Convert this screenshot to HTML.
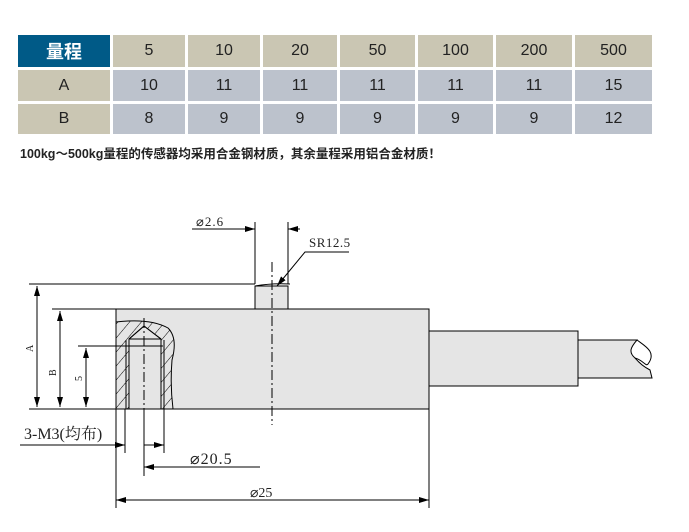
<!DOCTYPE html>
<html><head><meta charset="utf-8"><style>
body{margin:0;width:689px;height:532px;background:#fff;position:relative;overflow:hidden;font-family:"Liberation Sans","Noto Sans CJK SC",sans-serif}
.c{position:absolute;display:flex;align-items:center;justify-content:center;font-size:16px;color:#222}
</style></head><body>
<div class="c" style="left:18px;top:35px;width:92px;height:32px;background:#005a87;color:#fff;font-weight:bold;font-size:18px">量程</div>
<div class="c" style="left:113px;top:35px;width:72px;height:32px;background:#cac6b3">5</div>
<div class="c" style="left:188px;top:35px;width:72px;height:32px;background:#cac6b3">10</div>
<div class="c" style="left:263px;top:35px;width:74px;height:32px;background:#cac6b3">20</div>
<div class="c" style="left:340px;top:35px;width:75px;height:32px;background:#cac6b3">50</div>
<div class="c" style="left:418px;top:35px;width:75px;height:32px;background:#cac6b3">100</div>
<div class="c" style="left:496px;top:35px;width:76px;height:32px;background:#cac6b3">200</div>
<div class="c" style="left:575px;top:35px;width:77px;height:32px;background:#cac6b3">500</div>

<div class="c" style="left:18px;top:70px;width:92px;height:31px;background:#cac6b3">A</div>
<div class="c" style="left:113px;top:70px;width:72px;height:31px;background:#bcc2cc">10</div>
<div class="c" style="left:188px;top:70px;width:72px;height:31px;background:#bcc2cc">11</div>
<div class="c" style="left:263px;top:70px;width:74px;height:31px;background:#bcc2cc">11</div>
<div class="c" style="left:340px;top:70px;width:75px;height:31px;background:#bcc2cc">11</div>
<div class="c" style="left:418px;top:70px;width:75px;height:31px;background:#bcc2cc">11</div>
<div class="c" style="left:496px;top:70px;width:76px;height:31px;background:#bcc2cc">11</div>
<div class="c" style="left:575px;top:70px;width:77px;height:31px;background:#bcc2cc">15</div>

<div class="c" style="left:18px;top:104px;width:92px;height:30px;background:#cac6b3">B</div>
<div class="c" style="left:113px;top:104px;width:72px;height:30px;background:#bcc2cc">8</div>
<div class="c" style="left:188px;top:104px;width:72px;height:30px;background:#bcc2cc">9</div>
<div class="c" style="left:263px;top:104px;width:74px;height:30px;background:#bcc2cc">9</div>
<div class="c" style="left:340px;top:104px;width:75px;height:30px;background:#bcc2cc">9</div>
<div class="c" style="left:418px;top:104px;width:75px;height:30px;background:#bcc2cc">9</div>
<div class="c" style="left:496px;top:104px;width:76px;height:30px;background:#bcc2cc">9</div>
<div class="c" style="left:575px;top:104px;width:77px;height:30px;background:#bcc2cc">12</div>

<div style="position:absolute;left:20px;top:143px;font-size:12.5px;font-weight:bold;color:#222;white-space:nowrap">100kg～500kg量程的传感器均采用合金钢材质，其余量程采用铝合金材质！</div>

<svg style="position:absolute;left:0;top:0" width="689" height="532" font-family="Liberation Serif,Noto Serif CJK SC,serif">
<defs>
<marker id="a" viewBox="0 0 10 6" refX="10" refY="3" markerWidth="10" markerHeight="6" orient="auto-start-reverse" markerUnits="userSpaceOnUse"><path d="M0,0L10,3L0,6z" fill="#000"/></marker>
<pattern id="h" width="9" height="9" patternUnits="userSpaceOnUse" patternTransform="rotate(40)"><line x1="0" y1="0" x2="0" y2="9" stroke="#000" stroke-width="1"/></pattern>
</defs>
<g stroke="#000" stroke-width="1" fill="none">
<path d="M578,340H637 C631,347 628,352 635,358 C640,364 646,368 650,370 L652,378 H578Z" fill="#e5e5e5"/>
<path d="M637,340 C645,346 657,352 648,364 C646,367 643,360 635,358" />
<rect x="429" y="331" width="149" height="55" fill="#e5e5e5"/>
<rect x="116" y="309" width="313" height="100" fill="#e5e5e5"/>
<rect x="255" y="286" width="33" height="23" fill="#e5e5e5"/>
<path d="M255,286 Q272,283 290,284"/>
<path d="M116,322 Q150,318 168,328 Q178,338 172,360 Q170,385 173,409 H116Z" fill="url(#h)" stroke="#000"/>
<path d="M129,339 L144,326 L161,339 V409 H129Z" fill="#e5e5e5"/>
<path d="M129,339 L144,326 L161,339 M129,339V409 M161,339V409 M129,339H161 M126,409V340 M164,409V340"/>
<path d="M272,262V425 M144,318V412" stroke-dasharray="10,3,2,3"/>
<path d="M29,284H255 M52,309H116 M78,346H163 M29,409H116"/>
<path d="M37,286V407" marker-start="url(#a)" marker-end="url(#a)"/>
<path d="M60,311V407" marker-start="url(#a)" marker-end="url(#a)"/>
<path d="M86,348V407" marker-start="url(#a)" marker-end="url(#a)"/>
<path d="M255,222V284 M288,222V284"/>
<path d="M192,229H255" marker-end="url(#a)"/>
<path d="M300,229H288" marker-end="url(#a)"/>
<path d="M349,252H305 L277,286" marker-end="url(#a)"/>
<path d="M125,409V453 M164,409V453 M116,409V508 M429,386V508 M144,409V476"/>
<path d="M20,445H125" marker-end="url(#a)"/>
<path d="M144,445H164" marker-end="url(#a)"/>
<path d="M260,467H144" marker-end="url(#a)"/>
<path d="M272,500H116" marker-end="url(#a)"/>
<path d="M272,500H429" marker-end="url(#a)"/>
</g>
<g fill="#222" font-size="13">
<text x="196" y="226" letter-spacing="1">⌀2.6</text>
<text x="309" y="247" letter-spacing="0.5">SR12.5</text>
<text x="190" y="464" font-size="16" letter-spacing="1">⌀20.5</text>
<text x="250" y="497" font-size="14">⌀25</text>
<text x="24" y="439" font-size="16">3-M3(均布)</text>
<text transform="translate(33,352) rotate(-90)" font-size="10">A</text>
<text transform="translate(56,376) rotate(-90)" font-size="10">B</text>
<text transform="translate(82,381) rotate(-90)" font-size="10">5</text>
</g>
</svg>
</body></html>
